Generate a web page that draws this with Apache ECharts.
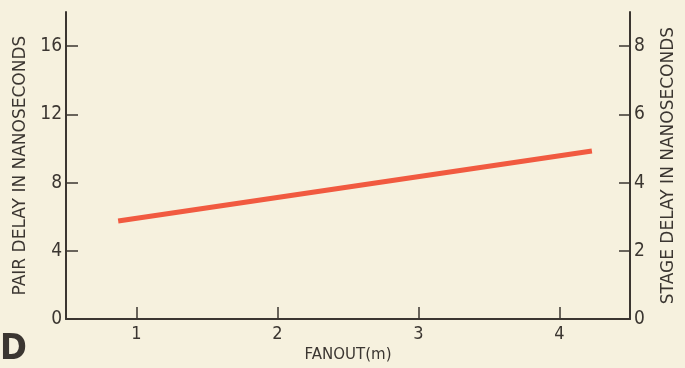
<!DOCTYPE html>
<html>
<head>
<meta charset="utf-8">
<script src="https://cdn.jsdelivr.net/npm/echarts@6/dist/echarts.min.js"></script>
<style>
	html, body { margin: 0; padding: 0; background: #f6f1de; }
	#chart { width: 685px; height: 368px; }
</style>
</head>
<body>
<div id="chart"></div>
<script>
// data
const fanout = [0.87, 4.23];
const pairDelay = [5.75, 9.85];
const fanoutTicks = [1, 2, 3, 4];
const pairTicks = [0, 4, 8, 12, 16];
const stageTicks = [0, 2, 4, 6, 8];

const ink = "#3b3631";
const narrow = "'DejaVu Sans Condensed', 'DejaVu Sans', sans-serif";
const wide = "'DejaVu Sans', sans-serif";

let chart = echarts.init(document.getElementById("chart"));
let option = {
	backgroundColor: "#f6f1de",
	animation: false,
	grid: { left: 66, right: 52, top: 12, bottom: 48 },
	graphic: [
		{
			type: "text",
			left: 0,
			top: 332,
			style: { text: "D", fill: ink, font: "bold 36px " + narrow }
		}
	],
	xAxis: {
		type: "value",
		min: 0.5,
		max: 4.5,
		name: "FANOUT(m)",
		nameLocation: "middle",
		nameGap: 28,
		nameTextStyle: { color: ink, fontSize: 15, fontFamily: wide },
		splitLine: { show: false },
		axisLine: { lineStyle: { color: ink, width: 2 } },
		axisTick: { inside: true, length: 12, customValues: fanoutTicks, lineStyle: { color: ink, width: 1.5 } },
		axisLabel: { customValues: fanoutTicks, color: ink, fontSize: 18, fontFamily: narrow, margin: 6 }
	},
	yAxis: [
		{
			type: "value",
			min: 0,
			max: 18,
			position: "left",
			name: "PAIR DELAY IN NANOSECONDS",
			nameLocation: "middle",
			nameGap: 36,
			nameTextStyle: { color: ink, fontSize: 17, fontFamily: wide },
			splitLine: { show: false },
			axisLine: { show: true, lineStyle: { color: ink, width: 2 } },
			axisTick: { show: true, inside: true, length: 12, customValues: pairTicks, lineStyle: { color: ink, width: 1.5 } },
			axisLabel: { customValues: pairTicks, color: ink, fontSize: 19, fontFamily: narrow, margin: 4 }
		},
		{
			type: "value",
			min: 0,
			max: 9,
			position: "right",
			name: "STAGE DELAY IN NANOSECONDS",
			nameLocation: "middle",
			nameGap: 30,
			nameRotate: 90,
			nameTextStyle: { color: ink, fontSize: 17, fontFamily: wide },
			splitLine: { show: false },
			axisLine: { show: true, lineStyle: { color: ink, width: 2 } },
			axisTick: { show: true, inside: true, length: 11, customValues: stageTicks, lineStyle: { color: ink, width: 1.5 } },
			axisLabel: { customValues: stageTicks, color: ink, fontSize: 19, fontFamily: narrow, margin: 4 }
		}
	],
	series: [
		{
			type: "line",
			yAxisIndex: 0,
			data: fanout.map((x, i) => [x, pairDelay[i]]),
			symbol: "none",
			lineStyle: { color: "#f15a40", width: 5, cap: "butt" }
		}
	]
};
chart.setOption(option);
</script>
</body>
</html>
